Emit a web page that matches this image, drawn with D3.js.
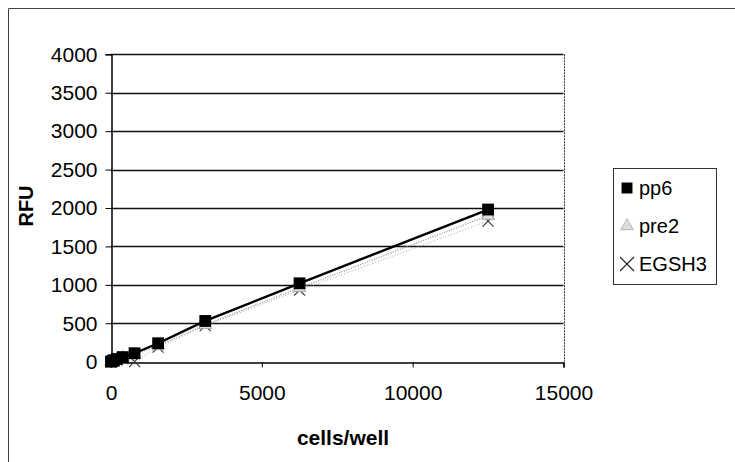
<!DOCTYPE html>
<html>
<head>
<meta charset="utf-8">
<script src="https://cdn.jsdelivr.net/npm/d3@7"></script>
<style>
  html, body { margin: 0; padding: 0; background: #fff; }
  svg { display: block; font-family: "Liberation Sans", Arial, sans-serif; }
</style>
</head>
<body>
<svg id="chart" width="735" height="462"></svg>
<script>
// Cell dilution series (cells per well) and fluorescence readings (RFU)
const cellsPerWell = [0, 49, 98, 195, 390, 781, 1562.5, 3125, 6250, 12500];
const pp6   = [0, 10, 20, 35, 60, 110, 240, 530, 1020, 1980];
const pre2  = [0, 8, 15, 30, 50, 90, 210, 480, 960, 1900];
const egsh3 = [0, 5, 12, 25, 40, 0, 190, 470, 930, 1830];

const seriesNames = ["pp6", "pre2", "EGSH3"];
const xTicks = [0, 5000, 10000, 15000];
const yTicks = [0, 500, 1000, 1500, 2000, 2500, 3000, 3500, 4000];

const svg = d3.select("#chart");

// outer chart frame (left and top edges)
svg.append("path")
  .attr("d", "M8.5,462 V8.5 H735")
  .attr("fill", "none").attr("stroke", "#444").attr("stroke-width", 1);

const x = d3.scaleLinear().domain([0, 15000]).range([111, 563.5]);
const y = d3.scaleLinear().domain([0, 4000]).range([361.7, 54.3]);

// horizontal gridlines
svg.append("g").selectAll("line").data(yTicks.filter(v => v > 0)).join("line")
  .attr("x1", x(0)).attr("x2", x(15000))
  .attr("y1", d => Math.round(y(d)) + 0.5).attr("y2", d => Math.round(y(d)) + 0.5)
  .attr("stroke", "#111").attr("stroke-width", 1.3);

// right edge of plot area
svg.append("line")
  .attr("x1", Math.round(x(15000)) + 0.5).attr("x2", Math.round(x(15000)) + 0.5)
  .attr("y1", y(4000)).attr("y2", y(0))
  .attr("stroke", "#333").attr("stroke-dasharray", "2,1");

// y axis
const yAxis = d3.axisLeft(y).tickValues(yTicks).tickSize(6).tickPadding(8).tickFormat(d3.format("d"));
const gy = svg.append("g").attr("transform", `translate(${Math.round(x(0)) + 0.5},0)`).call(yAxis);
gy.select(".domain").attr("stroke", "#000").attr("stroke-width", 1.5);
gy.selectAll(".tick line").attr("stroke", "#000");
gy.selectAll("text").attr("font-size", 21).attr("fill", "#000");

// x axis
const xAxis = d3.axisBottom(x).tickValues(xTicks).tickSize(5).tickPadding(18).tickFormat(d3.format("d"));
const gx = svg.append("g").attr("transform", `translate(0,${Math.round(y(0)) + 0.5})`).call(xAxis);
gx.select(".domain").attr("stroke", "#000").attr("stroke-width", 1.5);
gx.selectAll(".tick line").attr("stroke", "#000");
gx.selectAll("text").attr("font-size", 21).attr("fill", "#000");

// axis titles
svg.append("text")
  .attr("transform", "translate(33,206) rotate(-90)")
  .attr("text-anchor", "middle").attr("font-size", 20).attr("font-weight", "bold")
  .text("RFU");
svg.append("text")
  .attr("x", 343).attr("y", 445)
  .attr("text-anchor", "middle").attr("font-size", 21).attr("font-weight", "bold")
  .text("cells/well");

const line = d3.line().x(d => x(d[0])).y(d => y(d[1]));
const zip = vals => cellsPerWell.map((c, i) => [c, vals[i]]);

// connecting lines
svg.append("path").datum(zip(egsh3)).attr("d", line)
  .attr("fill", "none").attr("stroke", "#aaa").attr("stroke-width", 1).attr("stroke-dasharray", "1,2");
svg.append("path").datum(zip(pre2)).attr("d", line)
  .attr("fill", "none").attr("stroke", "#999").attr("stroke-width", 1.4).attr("stroke-dasharray", "1,1.5");
svg.append("path").datum(zip(pp6)).attr("d", line)
  .attr("fill", "none").attr("stroke", "#000").attr("stroke-width", 2.4);

// marker shapes
const square = d3.symbol().type(d3.symbolSquare).size(140);
const triangle = d3.symbol().type(d3.symbolTriangle).size(70);
const cross = s => `M${-s},${-s}L${s},${s}M${-s},${s}L${s},${-s}`;

svg.append("g").selectAll("path").data(zip(egsh3)).join("path")
  .attr("transform", d => `translate(${x(d[0])},${y(d[1])})`)
  .attr("d", cross(5.5)).attr("stroke", "#333").attr("stroke-width", 1.1).attr("fill", "none");
svg.append("g").selectAll("path").data(zip(pre2)).join("path")
  .attr("transform", d => `translate(${x(d[0])},${y(d[1])})`)
  .attr("d", triangle).attr("fill", "#ddd").attr("stroke", "#999").attr("stroke-width", 0.8);
svg.append("g").selectAll("path").data(zip(pp6)).join("path")
  .attr("transform", d => `translate(${x(d[0])},${y(d[1])})`)
  .attr("d", square).attr("fill", "#000");

// legend
const legend = svg.append("g");
legend.append("rect")
  .attr("x", 613.5).attr("y", 168.5).attr("width", 103).attr("height", 116)
  .attr("fill", "#fff").attr("stroke", "#333").attr("stroke-width", 1);
const rowY = [188, 226, 264];
const rows = legend.selectAll("g").data(seriesNames).join("g")
  .attr("transform", (d, i) => `translate(627,${rowY[i]})`);
rows.each(function(d, i) {
  const g = d3.select(this);
  if (i === 0) g.append("path").attr("d", d3.symbol().type(d3.symbolSquare).size(120)).attr("fill", "#000");
  if (i === 1) g.append("path").attr("d", triangle).attr("fill", "#ddd").attr("stroke", "#aaa").attr("stroke-width", 0.8);
  if (i === 2) g.append("path").attr("d", cross(7)).attr("stroke", "#222").attr("stroke-width", 1.1).attr("fill", "none");
});
rows.append("text")
  .attr("x", 12).attr("dy", "0.36em")
  .attr("font-size", 20).attr("fill", "#000")
  .text(d => d);
</script>
</body>
</html>
